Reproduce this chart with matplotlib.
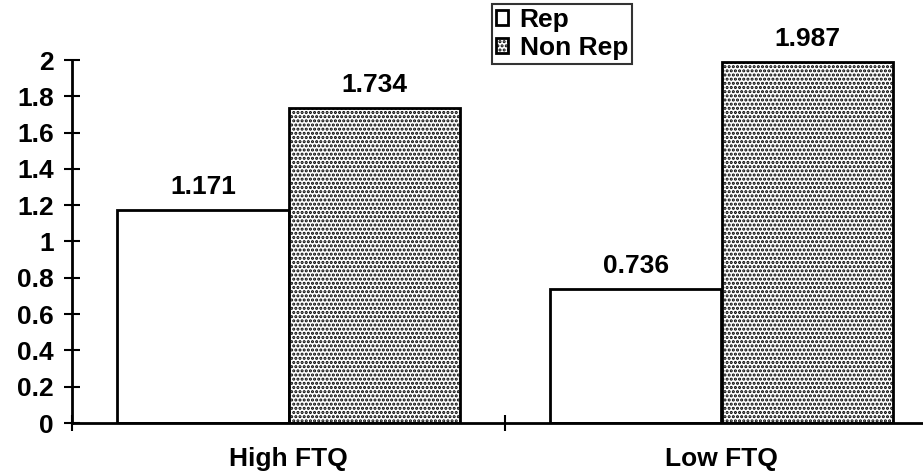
import numpy as np
import matplotlib
matplotlib.use('Agg')
from matplotlib import pyplot as plt

# data
groups = ['High FTQ', 'Low FTQ']
series = ['Rep', 'Non Rep']
rep = [1.171, 0.736]
non_rep = [1.734, 1.987]
yticks = [0, 0.2, 0.4, 0.6, 0.8, 1, 1.2, 1.4, 1.6, 1.8, 2]

plt.rcParams['font.family'] = ['Liberation Sans', 'DejaVu Sans']
plt.rcParams['font.weight'] = 'bold'
plt.rcParams['hatch.linewidth'] = 1.5

fig = plt.figure(figsize=(9.23, 4.73), dpi=100)
ax = fig.add_axes([72 / 923, 50 / 473, 866 / 923, 363 / 473])

x = np.arange(len(groups)) + 0.5
w = 0.395
b1 = ax.bar(x - w / 2, rep, w, facecolor='white', edgecolor='black',
            linewidth=2, label=series[0])
b2 = ax.bar(x + w / 2, non_rep, w, facecolor='white', edgecolor='black',
            linewidth=2, hatch='....', label=series[1])

for bars in (b1, b2):
    for r in bars:
        h = r.get_height()
        ax.annotate('%.3f' % h, (r.get_x() + r.get_width() / 2, h),
                    xytext=(0, 8), textcoords='offset points',
                    ha='center', va='bottom', fontsize=19, fontweight='bold')

ax.set_xlim(0, 2)
ax.set_ylim(0, 2)
ax.set_yticks(yticks)
ax.set_yticklabels(['%g' % t for t in yticks])
ax.set_xticks([0, 1])
ax.set_xticklabels(['', ''])
ax.set_xticks(x, minor=True)
ax.set_xticklabels(groups, minor=True)
ax.tick_params(axis='x', which='major', direction='inout', length=12, width=1.5)
ax.tick_params(axis='x', which='minor', length=0, pad=17, labelsize=19)
ax.tick_params(axis='y', direction='inout', length=12, width=1.5, pad=7,
               labelsize=19)

for s in ['top', 'right']:
    ax.spines[s].set_visible(False)
for s in ['left', 'bottom']:
    ax.spines[s].set_linewidth(2)
ax.spines['left'].set_zorder(5)
ax.spines['bottom'].set_zorder(5)

leg = fig.legend(handles=[b1, b2], labels=series, loc='upper left',
                 bbox_to_anchor=(492 / 923, 1 - 4 / 473), fontsize=19,
                 frameon=True, fancybox=False, handlelength=0.45,
                 handleheight=0.45, handletextpad=0.45, borderpad=0.15,
                 labelspacing=0.15, borderaxespad=0)
leg.get_frame().set_edgecolor('black')
leg.get_frame().set_linewidth(1.5)
for t in leg.get_texts():
    t.set_fontweight('bold')

fig.savefig('out.png', dpi=100)
